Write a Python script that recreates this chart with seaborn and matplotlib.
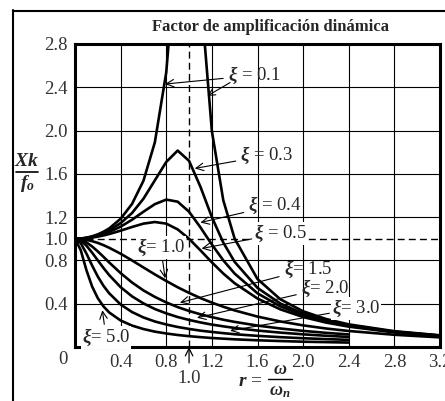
import numpy as np
import pandas as pd
import matplotlib
matplotlib.use("Agg")
import matplotlib.pyplot as plt
from matplotlib.lines import Line2D
import seaborn as sns

# frequency ratio r = w/wn (shared grid)
r_vals = [0, 0.05, 0.1, 0.15, 0.2, 0.25, 0.3, 0.4, 0.5, 0.6, 0.7, 0.8, 0.9, 1.0,
          1.1, 1.2, 1.3, 1.4, 1.6, 1.8, 2.0, 2.2, 2.4, 2.8, 3.2]

# amplification Xk/fo
xi_01 = [1.000, 1.002, 1.010, 1.023, 1.041, 1.065, 1.096, 1.185, 1.322, 1.536, 1.891, 2.538, 3.821, 5.000,
         3.288, 1.995, 1.356, 1.000, 0.628, 0.441, 0.330, 0.259, 0.209, 0.146, 0.108]
xi_03 = [1.000, 1.002, 1.008, 1.019, 1.034, 1.053, 1.078, 1.145, 1.238, 1.370, 1.540, 1.710, 1.815, 1.720,
         1.480, 1.200, 0.965, 0.786, 0.546, 0.402, 0.309, 0.246, 0.201, 0.142, 0.106]
xi_04 = [1.000, 1.002, 1.007, 1.015, 1.027, 1.043, 1.063, 1.112, 1.176, 1.250, 1.320, 1.362, 1.343, 1.250,
         1.105, 0.947, 0.801, 0.678, 0.496, 0.376, 0.294, 0.237, 0.195, 0.139, 0.104]
xi_05 = [1.000, 1.001, 1.005, 1.011, 1.020, 1.031, 1.044, 1.075, 1.109, 1.140, 1.155, 1.140, 1.087, 1.000,
         0.893, 0.782, 0.679, 0.589, 0.448, 0.348, 0.277, 0.226, 0.188, 0.135, 0.102]
xi_10 = [1.000, 0.998, 0.990, 0.978, 0.962, 0.941, 0.917, 0.862, 0.800, 0.735, 0.671, 0.610, 0.552, 0.500,
         0.452, 0.410, 0.372, 0.338, 0.281, 0.236, 0.200, 0.171, 0.148, 0.113, 0.089]
xi_15 = [1.000, 0.991, 0.967, 0.929, 0.883, 0.833, 0.781, 0.683, 0.596, 0.523, 0.463, 0.412, 0.369, 0.333,
         0.302, 0.276, 0.252, 0.232, 0.198, 0.171, 0.149, 0.131, 0.116, np.nan, np.nan]
xi_20 = [1.000, 0.983, 0.937, 0.872, 0.800, 0.730, 0.664, 0.553, 0.468, 0.403, 0.351, 0.311, 0.277, 0.250,
         0.227, 0.207, 0.191, 0.176, 0.152, 0.133, 0.117, 0.104, 0.093, np.nan, np.nan]
xi_30 = [1.000, 0.960, 0.864, 0.753, 0.651, 0.565, 0.496, 0.393, 0.323, 0.273, 0.236, 0.208, 0.185, 0.167,
         0.151, 0.139, 0.128, 0.118, 0.103, 0.091, 0.081, 0.073, 0.066, np.nan, np.nan]
xi_50 = [1.000, 0.896, 0.711, 0.559, 0.451, 0.375, 0.319, 0.245, 0.198, 0.166, 0.142, 0.125, 0.111, 0.100,
         0.091, 0.083, 0.077, 0.071, 0.062, 0.055, 0.049, 0.045, 0.041, np.nan, np.nan]

curves = {"0.1": xi_01, "0.3": xi_03, "0.4": xi_04, "0.5": xi_05, "1.0": xi_10,
          "1.5": xi_15, "2.0": xi_20, "3.0": xi_30, "5.0": xi_50}

x_ticks = [0.4, 0.8, 1.2, 1.6, 2.0, 2.4, 2.8, 3.2]
y_ticks = [0.4, 0.8, 1.0, 1.2, 1.6, 2.0, 2.4, 2.8]
y_grid = [0.4, 0.8, 1.2, 1.6, 2.0, 2.4]

rows = []
for xi, vals in curves.items():
    for r, v in zip(r_vals, vals):
        rows.append({"xi": xi, "r": r, "amp": v})
df = pd.DataFrame(rows).dropna()

sns.set_theme(style="white")
plt.rcParams["font.family"] = ["Liberation Serif", "DejaVu Serif"]
plt.rcParams["mathtext.fontset"] = "custom"
plt.rcParams["mathtext.rm"] = "Liberation Serif"
plt.rcParams["mathtext.it"] = "Liberation Serif:italic"
plt.rcParams["mathtext.bf"] = "Liberation Serif:italic:bold"

fig = plt.figure(figsize=(4.45, 4.01), dpi=100)
ax = fig.add_axes([75 / 445, 54 / 401, 365 / 445, 303 / 401])

sns.lineplot(data=df, x="r", y="amp", units="xi", estimator=None, sort=False,
             color="black", lw=1.9, ax=ax, legend=False)

ax.set_xlim(0, 3.2)
ax.set_ylim(0, 2.8)
for xv in x_ticks[:-1]:
    ax.axvline(xv, color="black", lw=0.8, zorder=0)
for yv in y_grid:
    ax.axhline(yv, color="black", lw=0.8, zorder=0)
ax.axvline(1.0, color="black", lw=1.0, ls=(0, (5, 3)), zorder=1)
ax.axhline(1.0, color="black", lw=1.0, ls=(0, (5, 3)), zorder=1)

for s in ax.spines.values():
    s.set_linewidth(2.2)
    s.set_color("black")

ax.set_xticks(x_ticks)
ax.set_xticklabels([f"{t:.1f}" for t in x_ticks])
ax.set_yticks(y_ticks)
ax.set_yticklabels([f"{t:.1f}" for t in y_ticks])
ax.tick_params(axis="both", length=0, labelsize=13.5, colors="#333333", pad=5)
ax.set_xlabel("")
ax.set_ylabel("")

# labels of the curves
arrow = dict(arrowstyle="->", color="black", lw=0.8, shrinkA=1, shrinkB=0)
white = dict(boxstyle="square,pad=0.05", fc="white", ec="none")
fs = 13.5
ax.annotate(r"$\mathbf{\xi}$ = 0.1", xy=(0.79, 2.43), xytext=(1.34, 2.51), fontsize=fs,
            va="center", arrowprops=arrow)
ax.annotate("", xy=(1.16, 2.32), xytext=(1.37, 2.45), arrowprops=arrow)
ax.annotate(r"$\mathbf{\xi}$ = 0.3", xy=(1.05, 1.65), xytext=(1.45, 1.77), fontsize=fs,
            va="center", arrowprops=arrow)
ax.annotate(r"$\mathbf{\xi}$ = 0.4", xy=(1.10, 1.15), xytext=(1.52, 1.31), fontsize=fs,
            va="center", arrowprops=arrow)
ax.annotate(r"$\mathbf{\xi}$ = 0.5", xy=(1.11, 0.91), xytext=(1.57, 1.05), fontsize=fs,
            va="center", arrowprops=arrow, bbox=white)
ax.annotate(r"$\mathbf{\xi}$= 1.0", xy=(0.79, 0.635), xytext=(0.54, 0.92), fontsize=fs,
            va="center", arrowprops=arrow, bbox=white)
ax.annotate(r"$\mathbf{\xi}$= 1.5", xy=(0.92, 0.41), xytext=(1.83, 0.72), fontsize=fs,
            va="center", arrowprops=arrow)
ax.annotate(r"$\mathbf{\xi}$= 2.0", xy=(1.07, 0.27), xytext=(1.98, 0.545), fontsize=fs,
            va="center", arrowprops=arrow)
ax.annotate(r"$\mathbf{\xi}$= 3.0", xy=(1.36, 0.15), xytext=(2.25, 0.355), fontsize=fs,
            va="center", arrowprops=arrow, bbox=white)
ax.annotate(r"$\mathbf{\xi}$= 5.0", xy=(0.24, 0.34), xytext=(0.06, 0.09), fontsize=fs,
            va="center", arrowprops=arrow, bbox=white)

# extra axis marks
ax.annotate("1.0", xy=(1.0, 0.0), xytext=(1.0, -0.105), xycoords=("data", "axes fraction"),
            textcoords=("data", "axes fraction"), ha="center", va="center", fontsize=13.5,
            color="#333333", arrowprops=dict(arrowstyle="->", color="black", lw=0.9, shrinkA=3, shrinkB=0))
fig.text(63 / 445, 1 - 360 / 401, "0", ha="center", va="center", fontsize=13.5, color="#333333")

fig.text(270 / 445, 1 - 27 / 401, "Factor de amplificación dinámica", ha="center", va="center",
         fontsize=12, fontweight="bold")

# y label: Xk over fo
fig.text(27 / 445, 1 - 162 / 401, r"$\mathbf{Xk}$", ha="center", va="center", fontsize=14)
fig.add_artist(Line2D([16 / 445, 38 / 445], [1 - 172 / 401, 1 - 172 / 401], color="black", lw=1.2))
fig.text(27 / 445, 1 - 183 / 401, r"$\mathbf{f_o}$", ha="center", va="center", fontsize=14)

# x label: r = omega over omega_n
fig.text(250 / 445, 1 - 381 / 401, r"$\mathbf{r}$ =", ha="center", va="center", fontsize=14)
fig.text(280 / 445, 1 - 370 / 401, r"$\mathbf{\omega}$", ha="center", va="center", fontsize=13)
fig.add_artist(Line2D([268 / 445, 292 / 445], [1 - 379 / 401, 1 - 379 / 401], color="black", lw=1.0))
fig.text(280 / 445, 1 - 391 / 401, r"$\mathbf{\omega_n}$", ha="center", va="center", fontsize=13)

# outer frame
fig.add_artist(Line2D([13 / 445, 13 / 445], [0, 1 - 10 / 401], color="black", lw=1.5))
fig.add_artist(Line2D([13 / 445, 1], [1 - 11 / 401, 1 - 11 / 401], color="black", lw=1.5))

fig.savefig("out.png", dpi=100)
